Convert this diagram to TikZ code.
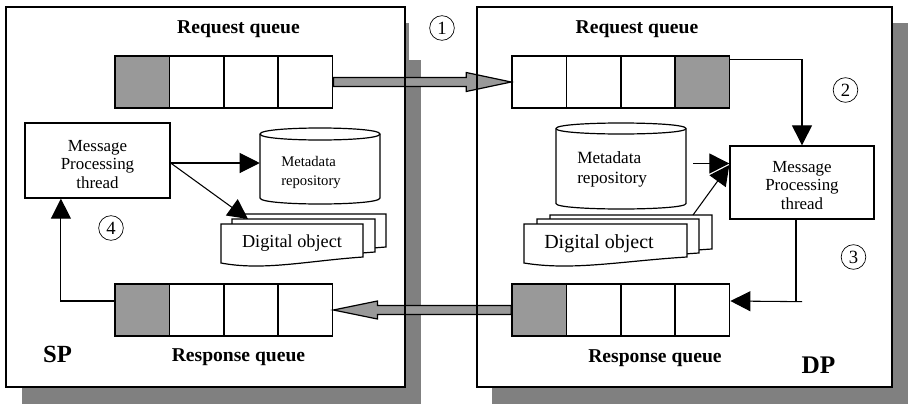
\documentclass[tikz,border=0pt]{standalone}
\usepackage{fontspec}
\setmainfont{Liberation Serif}
\usetikzlibrary{calc,arrows.meta}
\definecolor{cellgray}{RGB}{153,153,153}
\definecolor{shadowgray}{RGB}{128,128,128}
\newcommand\drawdoc[4]{%
  \path[docst] (#1,#2) -- (#3,#2) -- (#3,{#4-6})
    .. controls ({#1+0.6*(#3-#1)},{#4-2}) and ({#1+0.3*(#3-#1)},{#4+8}) .. (#1,#4) -- cycle;}
\newcommand\drawcyl[5]{%
  \path[cylst] (#1,{#2+#5}) -- (#1,{#4-#5})
    .. controls (#1,{#4+#5/3}) and (#3,{#4+#5/3}) .. (#3,{#4-#5})
    -- (#3,{#2+#5})
    .. controls (#3,{#2-#5/3}) and (#1,{#2-#5/3}) .. cycle;
  \draw[cylline] (#1,{#2+#5}) .. controls (#1,{#2+#5+1.3333*#5}) and (#3,{#2+#5+1.3333*#5}) .. (#3,{#2+#5});}
\begin{document}
\begin{tikzpicture}[x=0.75pt,y=-0.75pt,
  frame/.style={draw,fill=white,line width=1.5pt},
  frameline/.style={draw,line width=1.5pt},
  cell/.style={draw,fill=white,line width=1.2pt,minimum width=40.8pt,minimum height=39pt,inner sep=0pt},
  graycell/.style={cell,fill=cellgray},
  msgbox/.style={draw,fill=white,line width=1pt,inner sep=0pt},
  msgtext/.style={align=center,inner sep=0pt,font=\fontsize{12.7}{13.9}\selectfont},
  metatext/.style={align=left,inner sep=0pt,anchor=west},
  docst/.style={draw,fill=white,line width=0.9pt},
  cylst/.style={draw,fill=white,line width=0.9pt},
  cylline/.style={draw,line width=0.9pt},
  arr/.style={line width=0.8pt,-{Triangle[length=15pt,width=15pt]}},
  plain/.style={line width=0.8pt},
  bigarrow/.style={draw,fill=cellgray,line width=0.9pt,line join=miter},
  title/.style={font=\bfseries\fontsize{14.7}{17}\selectfont,anchor=base,inner sep=0pt},
  tag/.style={font=\bfseries\fontsize{18.5}{20}\selectfont,anchor=base,inner sep=0pt},
  circnum/.style={circle,draw,line width=0.5pt,minimum size=18.5pt,inner sep=0pt,font=\fontsize{14}{14}\selectfont}
]
\useasboundingbox (0,0) rectangle (908,404);

% shadows
\fill[shadowgray] (405,23) rectangle (409,387);
\fill[shadowgray] (405,60) rectangle (421,404);
\fill[shadowgray] (22,387) rectangle (421,404);
\fill[shadowgray] (892,23) rectangle (908,404);
\fill[shadowgray] (492,387) rectangle (908,404);

% frames
\path[frame] (6,7) rectangle (405,387);
\path[frame] (477,7) rectangle (892,387);

% left side: cylinder, documents, message box
\drawcyl{260}{128}{380}{204}{6}
\node[inner sep=0pt,minimum width=90pt,minimum height=57pt] (lmeta) at (320,166) {};
\node[metatext,font=\fontsize{11}{13.7}\selectfont] (lmetat) at (281,172.4) {Metadata\\repository};
\drawdoc{244}{214}{386}{253}
\drawdoc{232}{219}{375}{258}
\drawdoc{221}{224}{363}{263}
\node[anchor=base,inner sep=0pt,font=\fontsize{13.7}{15}\selectfont] (ldoct) at (292,247) {Digital object};
\coordinate (ldoc) at (248,219);
\node[msgbox,minimum width=108.75pt,minimum height=56.25pt] (lmsg) at (97.5,160.5) {};
\node[msgtext] (lmsgt) at (97.5,164.5) {Message\\Processing\\thread};

% right side
\drawcyl{556}{123}{686}{209}{5.5}
\node[inner sep=0pt,minimum width=97pt,minimum height=64pt] (rmeta) at (621,166) {};
\node[metatext,font=\fontsize{12.9}{15}\selectfont] (rmetat) at (577,169.2) {Metadata\\repository};
\drawdoc{550}{215}{712}{255}
\drawdoc{537}{219}{699}{259}
\drawdoc{524}{224}{687}{263}
\node[anchor=base,inner sep=0pt,font=\fontsize{15}{16}\selectfont] (rdoct) at (599,248.5) {Digital object};
\coordinate (rdoc) at (693,215);
\node[msgbox,minimum width=108pt,minimum height=54.75pt] (rmsg) at (802,182.5) {};
\node[msgtext] (rmsgt) at (802,185.3) {Message\\Processing\\thread};

% queues
\node[graycell] (lq1) at (142.2,82) {};
\node[cell] (lq2) at (196.6,82) {};
\node[cell] (lq3) at (251.0,82) {};
\node[cell] (lq4) at (305.4,82) {};
\node[cell] (rq1) at (539.2,82) {};
\node[cell] (rq2) at (593.6,82) {};
\node[cell] (rq3) at (648.0,82) {};
\node[graycell] (rq4) at (702.4,82) {};
\node[graycell] (lr1) at (142.2,310) {};
\node[cell] (lr2) at (196.6,310) {};
\node[cell] (lr3) at (251.0,310) {};
\node[cell] (lr4) at (305.4,310) {};
\node[graycell] (rr1) at (539.2,310) {};
\node[cell] (rr2) at (593.6,310) {};
\node[cell] (rr3) at (648.0,310) {};
\node[cell] (rr4) at (702.4,310) {};

% thin connectors, left
\coordinate (a1) at ($(lmsg.east)+(0,2.5)$);
\draw[arr] (a1) -- (a1 -| lmeta.west);
\draw[arr] (a1) -- (ldoc);
\draw[arr] ($(lr1.west)+(0,-9)$) -| ($(lmsg.south west)!0.25!(lmsg.south east)$);

% thin connectors, right
\draw[arr] ($(rq4.north east)+(0,4)$) -| (rmsg.north);
\coordinate (rtip) at ($(rmsg.west)+(0,-19)$);
\draw[arr] ($(rtip)+(-36,0)$) -- (rtip);
\draw[arr] (rdoc) -- ($(rtip)+(0,1.5)$);
\draw[plain] ($(rmsg.south)+(-6,0)$) -- ++(0,82);
\draw[arr] ($(rmsg.south)+(0,82)$) -- ($(rr4.east)+(0,-9)$);

% big arrows
\path[bigarrow] ($(lq4.east)+(0,-4.5)$) -- ($(rq1.west)+(-45,-4.5)$) -- ($(rq1.west)+(-45,-9.5)$)
  -- (rq1.west) -- ($(rq1.west)+(-45,9.5)$) -- ($(rq1.west)+(-45,4.5)$) -- ($(lq4.east)+(0,4.5)$) -- cycle;
\path[bigarrow] ($(rr1.west)+(0,-4.5)$) -- ($(lr4.east)+(44,-4.5)$) -- ($(lr4.east)+(44,-9)$)
  -- (lr4.east) -- ($(lr4.east)+(44,9)$) -- ($(lr4.east)+(44,4.5)$) -- ($(rr1.west)+(0,4.5)$) -- cycle;

% frame borders on top
\path[frameline] (6,7) rectangle (405,387);
\path[frameline] (477,7) rectangle (892,387);

% labels
\node[title] (lreq) at (238.5,33.5) {Request queue};
\node[title] (rreq) at (637,33.5) {Request queue};
\node[title] (lres) at (238.5,361.5) {Response queue};
\node[title] (rres) at (655,362) {Response queue};
\node[tag] (sp) at (57.5,362) {SP};
\node[tag,font=\bfseries\fontsize{19}{20}\selectfont] (dp) at (818.5,373.5) {DP};

\node[circnum] (n1) at (442,28) {1};
\node[circnum] (n2) at (845.5,90) {2};
\node[circnum] (n3) at (853.5,257) {3};
\node[circnum] (n4) at (111,228) {4};
\end{tikzpicture}
\end{document}
